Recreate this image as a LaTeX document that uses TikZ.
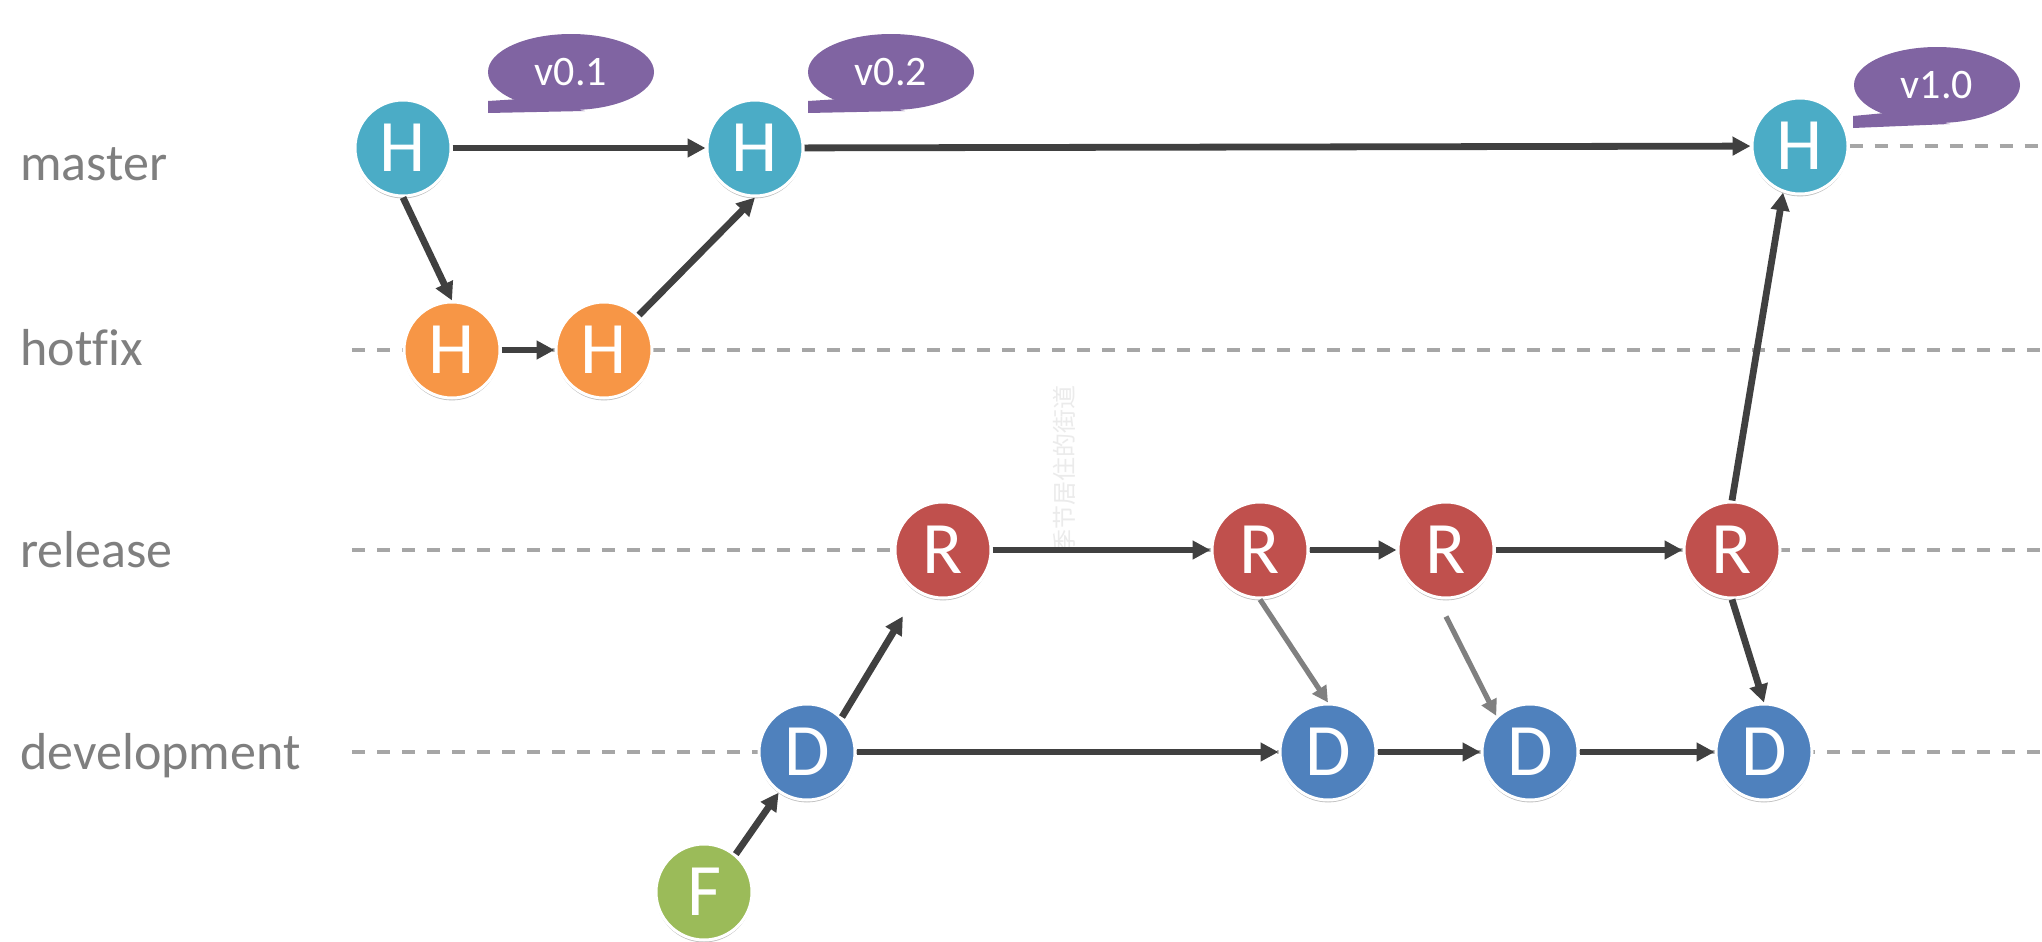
\documentclass[tikz,border=0pt]{standalone}
\usepackage{fontspec}
\setmainfont{Carlito}[Ligatures=NoCommon]
\newfontfamily\cjkfont{Noto Sans CJK SC}
\usetikzlibrary{arrows.meta,shadows,backgrounds,calc,shapes.geometric}
\definecolor{cMaster}{HTML}{4BACC6}
\definecolor{cHotfix}{HTML}{F79646}
\definecolor{cRelease}{HTML}{C0504D}
\definecolor{cDev}{HTML}{4F81BD}
\definecolor{cFeat}{HTML}{9BBB59}
\definecolor{cTag}{HTML}{8064A2}
\definecolor{cLabel}{HTML}{7F7F7F}
\definecolor{cDash}{HTML}{A6A6A6}
\definecolor{cArrow}{HTML}{404040}
\definecolor{cGArrow}{HTML}{808080}
\begin{document}
\begin{tikzpicture}[x=0.5pt,y=-0.5pt,
  commit/.style={circle,minimum size=48pt,inner sep=0pt,draw=white,line width=1.5pt,
    text=white,font=\fontsize{37}{37}\selectfont,
    drop shadow={shadow xshift=0pt,shadow yshift=-1.2pt,opacity=0.25,fill=black}},
  mnode/.style={commit,fill=cMaster},
  hnode/.style={commit,fill=cHotfix},
  rnode/.style={commit,fill=cRelease},
  dnode/.style={commit,fill=cDev},
  fnode/.style={commit,fill=cFeat},
  lane/.style={text=cLabel,inner sep=0pt,anchor=base west,font=\fontsize{26}{30}\selectfont},
  tag/.style={ellipse,fill=cTag,inner sep=0pt,minimum width=83pt,minimum height=38pt,text=white,font=\fontsize{21}{21}\selectfont},
  tagtail/.style={fill=cTag},
  arr/.style={draw=cArrow,line width=3.4pt,-{Triangle[length=9pt,width=9pt]}},
  garr/.style={draw=cGArrow,line width=2.6pt,-{Triangle[length=8pt,width=8pt]}},
  lanedash/.style={draw=cDash,line width=2pt,dash pattern=on 6.5pt off 6pt}
]
\useasboundingbox (0,0) rectangle (2042,942);

% lane labels
\node[lane] (lmaster) at (20,180) {master};
\node[lane] (lhotfix) at (20,365) {hotfix};
\node[lane] (lrelease) at (20,567) {release};
\node[lane] (ldev) at (20,769) {development};

% watermark
\node[rotate=90,text=black!8,font=\cjkfont\fontsize{12}{12}\selectfont] (wm) at (1064,469) {季节居住的街道};

% commits
\node[mnode] (H1) at (403,148) {H};
\node[mnode] (H2) at (755,148) {H};
\node[mnode] (H3) at (1800,146) {H};
\node[hnode] (X1) at (452,350) {H};
\node[hnode] (X2) at (604,350) {H};
\node[rnode] (R1) at (943,550) {R};
\node[rnode] (R2) at (1260,550) {R};
\node[rnode] (R3) at (1446,550) {R};
\node[rnode] (R4) at (1732,550) {R};
\node[dnode] (D1) at (807,752) {D};
\node[dnode] (D2) at (1328,752) {D};
\node[dnode] (D3) at (1530,752) {D};
\node[dnode] (D4) at (1764,752) {D};
\node[fnode] (F) at (704,892) {F};

% tags
\fill[tagtail] (520,99) -- (488,101) -- (488,113) -- (585,111) -- cycle;
\node[tag] (t1) at (571,72) {v0.1};
\fill[tagtail] (840,99) -- (808,101) -- (808,113) -- (905,111) -- cycle;
\node[tag] (t2) at (891,72) {v0.2};
\fill[tagtail] (1885,113) -- (1853,116) -- (1853,128) -- (1950,124) -- cycle;
\node[tag] (t3) at (1937,85) {v1.0};

% lanes (dashed)
\coordinate (hfL) at (352,350);
\coordinate (hfR) at (2042,350);
\coordinate (reL) at (352,550);
\coordinate (reR) at (2042,550);
\coordinate (deL) at (352,752);
\coordinate (deR) at (2042,752);
\coordinate (maR) at (2042,146);
\begin{scope}[on background layer]
\fill[white] (0,0) rectangle (2042,942);
\draw[lanedash] (hfL) -- (hfR);
\draw[lanedash] (reL) -- (reR);
\draw[lanedash] (deL) -- (deR);
\draw[lanedash] (H3.east) -- (maR);
\end{scope}

% connectors
\draw[arr] (H1) -- (H2);
\draw[arr] (H1.south) -- (X1.north);
\draw[arr] (X1) -- (X2);
\draw[arr] (X2.45) -- (H2.south);
\draw[arr] (H2) -- (H3);
\draw[arr] (F.50) -- (D1);
\draw[arr,shorten >=14pt] (D1.45) -- (R1);
\draw[arr] (D1) -- (D2);
\draw[arr] (D2) -- (D3);
\draw[arr] (D3) -- (D4);
\draw[arr] (R1) -- (R2);
\draw[arr] (R2) -- (R3);
\draw[arr] (R3) -- (R4);
\draw[garr] (R2.south) -- (D2.north);
\draw[garr] ($(R3.south)+(0,17)$) -- (D3.133);
\draw[arr] (R4.north) -- (H3.250);
\draw[arr] (R4.south) -- (D4.north);
\end{tikzpicture}
\end{document}
